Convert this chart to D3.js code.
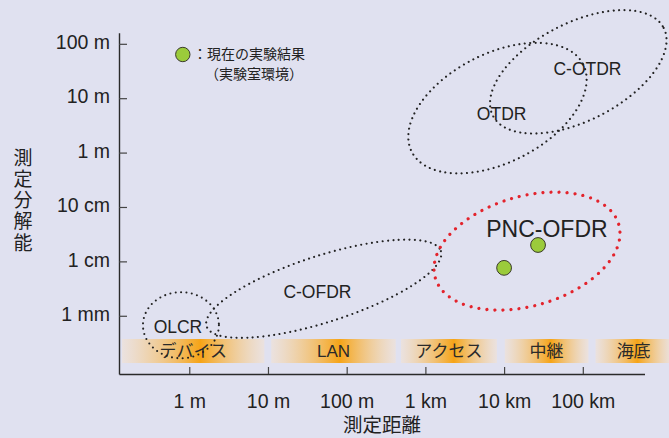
<!DOCTYPE html>
<html>
<head>
<meta charset="utf-8">
<script src="https://cdn.jsdelivr.net/npm/d3@7"></script>
<style>
  html, body { margin: 0; padding: 0; background: #e0e1f0; }
  svg { display: block; font-family: "Liberation Sans", Arial, "Noto Sans CJK JP", sans-serif; }
</style>
</head>
<body>
<svg id="chart" width="669" height="438"></svg>
<script>
// Measurement distance ticks (metres) and labels
const distTicks = [1, 10, 100, 1e3, 1e4, 1e5];
const distLabels = ["1 m", "10 m", "100 m", "1 km", "10 km", "100 km"];

// Resolution ticks (metres) and labels
const resTicks = [1e-3, 1e-2, 1e-1, 1, 10, 100];
const resLabels = ["1 mm", "1 cm", "10 cm", "1 m", "10 m", "100 m"];

// Application ranges along the distance axis (metres)
const bandNames = ["デバイス", "LAN", "アクセス", "中継", "海底"];
const bandFrom = [0.14, 11, 490, 10200, 145000];
const bandTo = [9, 420, 8100, 118000, 1350000];

// Technique regions: ends of the long axis as [distance, resolution], and width ratio
const regionNames = ["OLCR", "C-OFDR", "OTDR", "C-OTDR", "PNC-OFDR"];
const regionStart = [[0.258, 6.7e-4], [1.66, 6.4e-4], [672, 1.03], [7200, 4.77], [1336, 0.00497]];
const regionEnd = [[2.38, 6.7e-4], [1574, 0.0154], [101000, 42], [1066000, 196], [286000, 0.048]];
const regionWidth = [0.87, 0.27, 0.565, 0.508, 0.573];
// Where each region's name sits [distance, resolution]
const regionLabelAt = [[0.718, 4.83e-4], [42.5, 2.1e-3], [9310, 3.98], [114600, 26.7], [35000, 0.0281]];

// Current experimental results (lab environment)
const resultDist = [10000, 27000];
const resultRes = [0.0076, 0.020];

const svg = d3.select("#chart");
const W = 669, H = 438;
const plot = { left: 119, right: 644.5, top: 32.7, bottom: 374 };

const x = d3.scaleLog().domain([0.128, 608000]).range([plot.left, plot.right]);
const y = d3.scaleLog().domain([8.5e-5, 160]).range([plot.bottom, plot.top]);

svg.append("rect").attr("width", W).attr("height", H).attr("fill", "#e0e1f0");

// Application bands: pale at the ends, orange in the middle
const defs = svg.append("defs");
const grad = defs.append("linearGradient").attr("id", "bandGlow")
  .attr("x1", "0%").attr("x2", "100%").attr("y1", "0%").attr("y2", "0%");
[[0, "#f3e2d2", 0.55], [0.55, "#f6a417", 1], [1, "#f3e2d2", 0.55]].forEach(([o, c, a]) => {
  grad.append("stop").attr("offset", o * 100 + "%")
    .attr("stop-color", c).attr("stop-opacity", a);
});

const bands = svg.append("g");
bandNames.forEach((name, i) => {
  const x0 = x(bandFrom[i]), x1 = x(bandTo[i]);
  bands.append("rect")
    .attr("x", x0).attr("y", 339).attr("width", x1 - x0).attr("height", 24)
    .attr("fill", "url(#bandGlow)");
});

// Axes
const xAxis = d3.axisBottom(x).tickValues(distTicks)
  .tickFormat((d, i) => distLabels[i]).tickSizeInner(-7).tickSizeOuter(0).tickPadding(20);
const gx = svg.append("g").attr("transform", `translate(0,${plot.bottom})`).call(xAxis);

const yAxis = d3.axisLeft(y).tickValues(resTicks)
  .tickFormat((d, i) => resLabels[i]).tickSizeInner(-8).tickSizeOuter(0).tickPadding(9);
const gy = svg.append("g").attr("transform", `translate(${plot.left},0)`).call(yAxis);

[gx, gy].forEach(g => {
  g.select(".domain").attr("stroke", "#2a2a2a").attr("stroke-width", 1.4);
  g.selectAll(".tick line").attr("stroke", "#444").attr("stroke-width", 1.2);
  g.selectAll(".tick text").attr("fill", "#222").attr("font-size", 19.5)
    .attr("font-family", "'Liberation Sans', Arial, sans-serif");
});
gy.selectAll(".tick text").attr("dy", "0.24em");

// Band names
const bandText = svg.append("g");
bandNames.forEach((name, i) => {
  bandText.append("text")
    .attr("x", (x(bandFrom[i]) + x(bandTo[i])) / 2)
    .attr("y", 357)
    .attr("text-anchor", "middle")
    .attr("font-size", 17)
    .attr("fill", "#2a2a2a")
    .text(name);
});

// Technique regions
const regions = svg.append("g");
regionNames.forEach((name, i) => {
  const p1 = [x(regionStart[i][0]), y(regionStart[i][1])];
  const p2 = [x(regionEnd[i][0]), y(regionEnd[i][1])];
  const cx = (p1[0] + p2[0]) / 2, cy = (p1[1] + p2[1]) / 2;
  const rx = Math.hypot(p2[0] - p1[0], p2[1] - p1[1]) / 2;
  const ry = rx * regionWidth[i];
  const ang = Math.atan2(p2[1] - p1[1], p2[0] - p1[0]) * 180 / Math.PI;
  const red = name === "PNC-OFDR";
  regions.append("ellipse")
    .attr("cx", 0).attr("cy", 0).attr("rx", rx).attr("ry", ry)
    .attr("transform", `translate(${cx},${cy}) rotate(${ang})`)
    .attr("fill", "none")
    .attr("stroke", red ? "#e3232c" : "#222")
    .attr("stroke-width", red ? 3.2 : 2.1)
    .attr("stroke-linecap", "round")
    .attr("stroke-dasharray", red ? "0 8" : "0 5.4");
});

regionNames.forEach((name, i) => {
  const red = name === "PNC-OFDR";
  regions.append("text")
    .attr("x", x(regionLabelAt[i][0]))
    .attr("y", y(regionLabelAt[i][1]))
    .attr("text-anchor", "middle")
    .attr("font-size", red ? 23 : 17.5)
    .attr("fill", "#222")
    .text(name);
});

// Experimental results
svg.append("g").selectAll("circle")
  .data(resultDist)
  .join("circle")
  .attr("cx", d => x(d))
  .attr("cy", (d, i) => y(resultRes[i]))
  .attr("r", 7.4)
  .attr("fill", "#9bcb3b")
  .attr("stroke", "#3a3a2a")
  .attr("stroke-width", 1);

// Legend
const legend = svg.append("g");
legend.append("circle").attr("cx", 182.8).attr("cy", 54.5).attr("r", 7.2)
  .attr("fill", "#9bcb3b").attr("stroke", "#3a3a2a").attr("stroke-width", 1);
legend.append("text").attr("x", 193).attr("y", 59.3).attr("font-size", 14).attr("fill", "#222")
  .attr("font-family", "'Noto Sans CJK JP', sans-serif")
  .text("：現在の実験結果");
legend.append("text").attr("x", 205).attr("y", 79.3).attr("font-size", 14).attr("fill", "#222")
  .attr("font-family", "'Noto Sans CJK JP', sans-serif")
  .text("（実験室環境）");

// Axis titles
svg.append("text").attr("x", 382).attr("y", 432).attr("text-anchor", "middle")
  .attr("font-size", 19.5).attr("fill", "#222")
  .attr("font-family", "'Noto Sans CJK JP', sans-serif")
  .text("測定距離");

// Vertical title, one column of characters
svg.append("text")
  .attr("x", 23).attr("y", 148)
  .attr("font-size", 19)
  .attr("fill", "#222")
  .attr("font-family", "'Noto Sans CJK JP', sans-serif")
  .style("writing-mode", "vertical-rl")
  .style("letter-spacing", "2.2px")
  .text("測定分解能");
</script>
</body>
</html>
